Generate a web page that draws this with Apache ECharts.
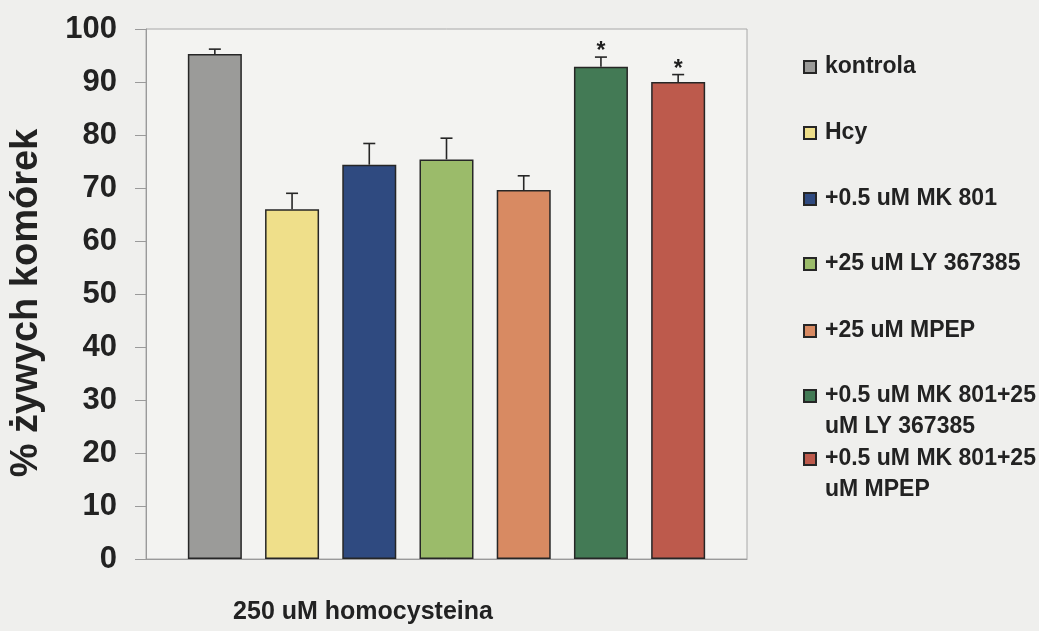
<!DOCTYPE html>
<html>
<head>
<meta charset="utf-8">
<script src="https://cdn.jsdelivr.net/npm/echarts@6/dist/echarts.min.js"></script>
<style>
  html, body { margin: 0; padding: 0; background: #efefed; }
  #chart { width: 1039px; height: 631px; }
</style>
</head>
<body>
<div id="chart"></div>
<script>
// Treatment groups (legend entries), mean % viable cells and error bar half-heights
const groups = [
  'kontrola',
  'Hcy',
  '+0.5 uM MK 801',
  '+25 uM LY 367385',
  '+25 uM MPEP',
  '+0.5 uM MK 801+25\nuM LY 367385',
  '+0.5 uM MK 801+25\nuM MPEP'
];
const means = [95.3, 66.0, 74.4, 75.4, 69.6, 92.9, 90.0];
const errors = [0.9, 3.0, 4.0, 4.0, 2.7, 1.8, 1.4];
const significance = ['', '', '', '', '', '*', '*'];
const colors = ['#9b9b99', '#efdf8a', '#2f4a80', '#9bbb6a', '#d88a62', '#437a55', '#bd5a4c'];
const category = ['250 uM homocysteina'];
const yAxisTitle = '% żywych komórek';

const FONT = '"Liberation Sans", Arial, sans-serif';
const BAR_W = 54;
const BAR_GAP = '43%';
const legendCenters = [67, 133, 199, 264, 331, 396, 459];
const LINE_H = 31;

const chart = echarts.init(document.getElementById('chart'), null, { renderer: 'canvas' });

const barSeries = groups.map((g, i) => ({
  type: 'bar',
  name: g,
  data: [means[i]],
  barWidth: BAR_W,
  barGap: BAR_GAP,
  itemStyle: { color: colors[i], borderColor: '#262626', borderWidth: 1.5 },
  emphasis: { disabled: true },
  z: 2
}));

// Error bars and significance stars, placed on the same bar slots
const errorSeries = {
  type: 'custom',
  name: 'err',
  data: means.map((m, i) => [0, m, errors[i], i]),
  z: 3,
  silent: true,
  renderItem(params, api) {
    const idx = api.value(3);
    const layout = api.barLayout({ barWidth: BAR_W, barGap: BAR_GAP, count: groups.length });
    const base = api.coord([api.value(0), api.value(1)]);
    const top = api.coord([api.value(0), api.value(1) + api.value(2)]);
    const x = base[0] + layout[idx].offsetCenter;
    const half = 6;
    const children = [
      { type: 'line', shape: { x1: x, y1: base[1], x2: x, y2: top[1] },
        style: { stroke: '#262626', lineWidth: 1.6 } },
      { type: 'line', shape: { x1: x - half, y1: top[1], x2: x + half, y2: top[1] },
        style: { stroke: '#262626', lineWidth: 1.6 } }
    ];
    if (significance[idx]) {
      children.push({
        type: 'text',
        style: {
          text: significance[idx], x: x, y: top[1] - 5,
          align: 'center', verticalAlign: 'middle',
          font: 'bold 23px ' + FONT, fill: '#1e1e1e'
        }
      });
    }
    return { type: 'group', children };
  }
};

// One legend block per group so each entry sits at its own height;
// wrapped entries keep their marker beside the first line.
const legends = groups.map((g, i) => {
  const lines = g.split('\n').length;
  const total = lines === 1 ? 1 : 2 * lines - 1;
  return {
    data: [g],
    orient: 'vertical',
    left: 803,
    top: legendCenters[i] - total * LINE_H / 2,
    padding: 0,
    itemWidth: 12,
    itemHeight: 12,
    itemGap: 0,
    icon: 'rect',
    selectedMode: false,
    formatter: name => (lines > 1 ? '\n'.repeat(lines - 1) + name : name),
    textStyle: {
      fontFamily: FONT, fontSize: 23, fontWeight: 'bold', color: '#222',
      lineHeight: LINE_H, padding: [0, 0, 0, 4]
    }
  };
});

chart.setOption({
  backgroundColor: '#efefed',
  animation: false,
  grid: {
    left: 146, right: 292, top: 29, bottom: 72,
    show: true, backgroundColor: '#f3f3f1', borderColor: '#a8a8a8', borderWidth: 1
  },
  legend: legends,
  xAxis: {
    type: 'category',
    data: category,
    axisLine: { show: true, lineStyle: { color: '#9a9a9a', width: 1 } },
    axisTick: { show: false },
    axisLabel: { show: false },
    splitLine: { show: false }
  },
  yAxis: {
    type: 'value',
    min: 0, max: 100, interval: 10,
    name: yAxisTitle,
    nameLocation: 'middle',
    nameRotate: 90,
    nameGap: 100,
    nameTextStyle: {
      fontFamily: FONT, fontSize: 38, fontWeight: 'bold', color: '#222',
      padding: [0, 18, 0, 0]
    },
    axisLine: { show: true, lineStyle: { color: '#9a9a9a', width: 1 } },
    axisTick: { show: true, inside: false, length: 11, lineStyle: { color: '#9a9a9a' } },
    axisLabel: { margin: 29, fontFamily: FONT, fontSize: 31, fontWeight: 'bold', color: '#222' },
    splitLine: { show: false }
  },
  graphic: [{
    type: 'text',
    x: 363, y: 612,
    style: {
      text: category[0], align: 'center', verticalAlign: 'middle',
      font: 'bold 25px ' + FONT, fill: '#222'
    }
  }],
  series: [...barSeries, errorSeries]
});
</script>
</body>
</html>
